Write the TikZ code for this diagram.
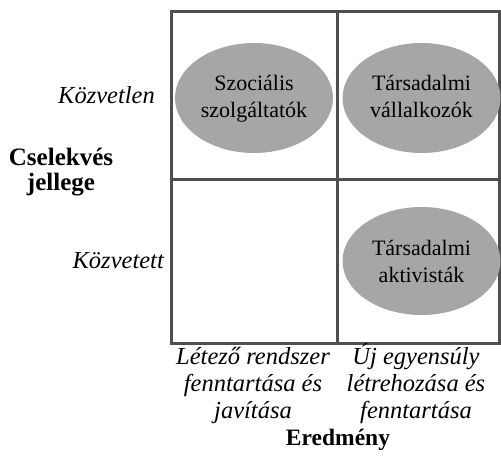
\documentclass[tikz,border=0pt]{standalone}
\usepackage{fontspec}
\setmainfont{Liberation Serif}
\usetikzlibrary{shapes.geometric}
\definecolor{gridc}{HTML}{4F4F4F}
\definecolor{ellc}{HTML}{A6A6A6}
\tikzset{
  gridline/.style={draw=gridc, line width=3pt},
  blob/.style={ellipse, fill=ellc, draw=none, minimum width=158pt, minimum height=110pt, inner sep=0pt},
  btext/.style={anchor=base, inner sep=0pt, align=center, font=\fontsize{22}{27.5}\selectfont},
  lab/.style={font=\fontsize{24.5}{27}\selectfont\itshape, inner sep=0pt, align=center},
  head/.style={font=\fontsize{25}{25.5}\selectfont\bfseries, inner sep=0pt, align=center}
}
\begin{document}
\begin{tikzpicture}[x=1pt,y=-1pt]
\useasboundingbox (0,0) rectangle (501,471);
\coordinate (tl) at (171,11);
\coordinate (br) at (499,343);
\coordinate (mt) at (337,11);
\coordinate (mb) at (337,343);
\coordinate (ml) at (171,179);
\coordinate (mr) at (499,179);
\draw[gridline] (tl) rectangle (br);
\draw[gridline] (mt) -- (mb);
\draw[gridline] (ml) -- (mr);
\node[blob] (szoc) at (254,98) {};
\node[blob] (vall) at (421.5,98) {};
\node[blob, minimum height=108pt] (akt) at (421.5,261) {};
% base anchor of a multi-line node = baseline of its last line
\node[btext] (szoct) at (254,117.5) {Szociális\\szolgáltatók};
\node[btext] (vallt) at (421.5,117.5) {Társadalmi\\vállalkozók};
\node[btext] (aktt) at (421.5,282.5) {Társadalmi\\aktivisták};
\node[lab, anchor=base east] (kozv) at (155,103) {Közvetlen};
\node[lab, anchor=base east] (kozt) at (164,268) {Közvetett};
\node[head, anchor=base] (csel) at (61,190.5) {Cselekvés\\jellege};
\node[lab, anchor=base] (letezo) at (253,418) {Létező rendszer\\fenntartása és\\javítása};
\node[lab, anchor=base] (uj) at (416,418) {Új egyensúly\\létrehozása és\\fenntartása};
\node[head, anchor=base, font=\fontsize{23.5}{23}\selectfont\bfseries] (ered) at (338,445) {Eredmény};
\end{tikzpicture}
\end{document}
